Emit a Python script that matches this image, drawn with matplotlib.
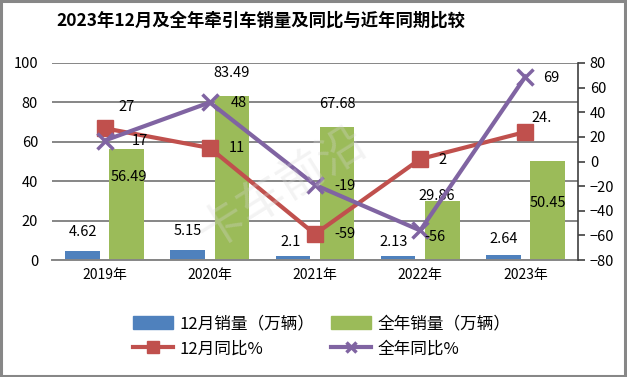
import numpy as np
import matplotlib
matplotlib.use("Agg")
import matplotlib.pyplot as plt
from matplotlib.lines import Line2D
from matplotlib.patches import Patch, Rectangle

plt.rcParams["font.family"] = ["Noto Sans CJK SC", "DejaVu Sans"]

years = ["2019年", "2020年", "2021年", "2022年", "2023年"]
dec_sales = [4.62, 5.15, 2.1, 2.13, 2.64]
year_sales = [56.49, 83.49, 67.68, 29.86, 50.45]
dec_yoy = [27, 11, -59, 2, 24]
year_yoy = [17, 48, -19, -56, 69]
dec_yoy_labels = ["27", "11", "-59", "2", "24."]

BLUE = "#4F81BD"
GREEN = "#9BBB59"
RED = "#C0504D"
PURPLE = "#8064A2"
GRID = "#868686"

fig = plt.figure(figsize=(6.27, 3.77), dpi=100)
ax = fig.add_axes([52 / 627, 117 / 377, 526 / 627, 197 / 377])
ax2 = ax.twinx()

x = np.arange(len(years))
w = 0.33
ax.bar(x - 0.21, dec_sales, w, color=BLUE, zorder=2)
ax.bar(x + 0.21, year_sales, w, color=GREEN, zorder=2)

ax.set_xlim(-0.5, len(years) - 0.5)
ax.set_ylim(0, 100)
ax.set_yticks(range(0, 101, 20))
ax.yaxis.grid(True, color=GRID, linewidth=1.4, zorder=0)
ax.set_axisbelow(True)
ax.set_xticks(x)
ax.set_xticklabels(years, fontsize=10)
ax.tick_params(axis="y", length=0, labelsize=10.5, pad=10)
ax.tick_params(axis="x", length=0, labelsize=10, pad=6)
for s in ("top", "left", "right"):
    ax.spines[s].set_visible(False)
ax.spines["bottom"].set_color(GRID)
ax.spines["bottom"].set_linewidth(1.4)

ax2.plot(x, dec_yoy, color=RED, lw=3, marker="s", ms=12, zorder=4)
ax2.plot(x, year_yoy, color=PURPLE, lw=3, marker="x", ms=11, mew=2.5, zorder=5)
ax2.set_ylim(-80, 80)
ax2.set_yticks(range(-80, 81, 20))
ax2.tick_params(axis="y", direction="out", length=5, width=1.2, color="#404040",
                labelsize=10.5)
for s in ("top", "left", "bottom"):
    ax2.spines[s].set_visible(False)
ax2.spines["right"].set_color("#404040")
ax2.spines["right"].set_linewidth(1.2)

# data labels (offsets in pixels)
dec_off = [(0, 19), (0, 19), (-2, 14), (-4, 14), (0, 16)]
for i, v in enumerate(dec_sales):
    ax.annotate(f"{v:g}", (x[i] - 0.21, v), xytext=dec_off[i], textcoords="offset pixels",
                ha="center", va="center", fontsize=10.5, zorder=6)
year_off = [(2, -28), (0, 23), (0, 23), (-6, 5), (0, -42)]
for i, v in enumerate(year_sales):
    ax.annotate(f"{v:.2f}", (x[i] + 0.21, v), xytext=year_off[i], textcoords="offset pixels",
                ha="center", va="center", fontsize=10.5, zorder=6)
red_off = [(22, 21), (27, 0), (30, 0), (22, -1), (16, 14)]
for i, v in enumerate(dec_yoy):
    ax2.annotate(dec_yoy_labels[i], (x[i], v), xytext=red_off[i], textcoords="offset pixels",
                 ha="center", va="center", fontsize=10.5, zorder=6)
pur_off = [(35, 0), (29, -1), (30, -1), (15, -7), (26, -1)]
for i, v in enumerate(year_yoy):
    ax2.annotate(str(v), (x[i], v), xytext=pur_off[i], textcoords="offset pixels",
                 ha="center", va="center", fontsize=10.5, zorder=6)

# watermark
fig.text(0.45, 0.50, "卡车前沿", fontsize=34, color="#d8d8d8", alpha=0.3,
         rotation=32, ha="center", va="center", zorder=0)

fig.text(0.416, 0.945, "2023年12月及全年牵引车销量及同比与近年同期比较",
         fontsize=12.5, fontweight="bold", ha="center", va="center")

# matplotlib fills legend column-wise, so order as blue, red, green, purple
handles = [
    Patch(color=BLUE, label="12月销量（万辆）"),
    Line2D([], [], color=RED, lw=3, marker="s", ms=8, label="12月同比%"),
    Patch(color=GREEN, label="全年销量（万辆）"),
    Line2D([], [], color=PURPLE, lw=3, marker="x", ms=7, mew=2.5, label="全年同比%"),
]
fig.legend(handles=handles, ncol=2, loc="center", bbox_to_anchor=(0.513, 0.108),
           frameon=False, fontsize=12, handlelength=2.4, handleheight=0.8,
           columnspacing=1.0, labelspacing=0.5, handletextpad=0.4)

fig.patches.append(Rectangle((0.002, 0.003), 0.995, 0.994, transform=fig.transFigure,
                             fill=False, edgecolor="#878787", linewidth=2.2))

fig.savefig("out.png", dpi=100)
